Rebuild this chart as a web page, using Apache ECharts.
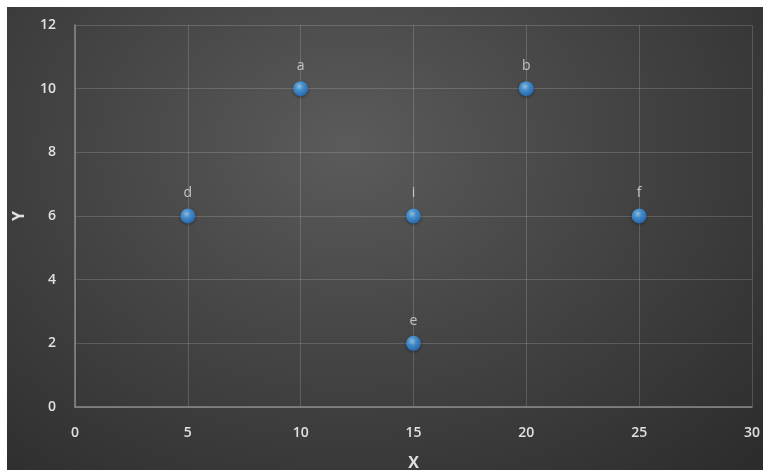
<!DOCTYPE html>
<html><head><meta charset="utf-8">
<script src="https://cdn.jsdelivr.net/npm/echarts@6/dist/echarts.min.js"></script>
<style>
html,body{margin:0;padding:0;background:#fff;width:763px;height:472px;overflow:hidden}
#c{position:absolute;left:7px;top:7px;width:756px;height:463px;
background:radial-gradient(ellipse at 45% 30%, #5b5b5b 0%, #474747 40%, #2b2b2b 100%);}
</style></head>
<body><div id="c"></div>
<script>
const labels = ['a','b','d','i','f','e'];
const xValues = [10,20,5,15,25,15];
const yValues = [10,10,6,6,6,2];
const xTicks = [0,5,10,15,20,25,30];
const yTicks = [0,2,4,6,8,10,12];

const chart = echarts.init(document.getElementById('c'));
const data = labels.map((l,i)=>({name:l,value:[xValues[i],yValues[i]]}));
const axisText = {color:'#e0e0e0',fontSize:14,fontWeight:600,fontFamily:'Open Sans, sans-serif'};
chart.setOption({
  backgroundColor:'transparent',
  grid:{left:68,right:11,top:18,bottom:63,containLabel:false,outerBoundsMode:'none'},
  xAxis:{type:'value',min:0,max:30,interval:5,name:'X',nameLocation:'middle',nameGap:48,
    nameTextStyle:{color:'#e0e0e0',fontSize:16,fontWeight:'bold',fontFamily:'Open Sans, sans-serif'},
    axisLine:{show:true,lineStyle:{color:'#8a8a8a',width:1.5}},axisTick:{show:false},
    axisLabel:Object.assign({margin:19},axisText),
    splitLine:{show:true,lineStyle:{color:'rgba(255,255,255,0.16)',width:1}}},
  yAxis:{type:'value',min:0,max:12,interval:2,name:'Y',nameLocation:'middle',nameGap:48,nameRotate:90,
    nameTextStyle:{color:'#e0e0e0',fontSize:16,fontWeight:'bold',fontFamily:'Open Sans, sans-serif'},
    axisLine:{show:true,lineStyle:{color:'#8a8a8a',width:1.5}},axisTick:{show:false},
    axisLabel:Object.assign({margin:19},axisText),
    splitLine:{show:true,lineStyle:{color:'rgba(255,255,255,0.16)',width:1}}},
  series:[{type:'scatter',data:data,symbolSize:15,
    itemStyle:{color:{type:'radial',x:0.4,y:0.35,r:0.65,colorStops:[
      {offset:0,color:'#b0e0ff'},{offset:0.4,color:'#4aa6f2'},{offset:1,color:'#2575cc'}]},
      shadowColor:'rgba(0,0,0,0.5)',shadowBlur:3,shadowOffsetY:1},
    label:{show:true,position:'top',distance:8,formatter:'{b}',color:'#e0e0e0',fontSize:14,fontFamily:'Open Sans, sans-serif'}
  }]
});
</script></body></html>
